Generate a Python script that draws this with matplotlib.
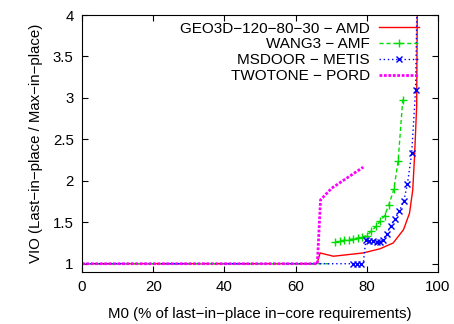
import numpy as np
import matplotlib
matplotlib.use('Agg')
import matplotlib.pyplot as plt

plt.rcParams['font.family'] = ['Liberation Sans', 'DejaVu Sans']

# GEO3D-120-80-30 - AMD
geo_x = [0, 66.0, 66.9, 67.8, 68.7, 69.7, 70.6, 79.0, 83.7, 87.4, 90.3, 92.0, 92.9, 93.4, 94.0, 94.2]
geo_y = [1.0, 1.0, 1.13, 1.12, 1.11, 1.10, 1.09, 1.13, 1.18, 1.25, 1.41, 1.61, 1.89, 2.29, 2.9, 4.2]

# WANG3 - AMF (flat part, then separate block)
wang_x = [0, 70.0, np.nan, 71.1, 72.5, 73.7, 75.0, 76.2, 77.4, 78.6, 80.0, 81.2, 82.6, 83.7, 85.0, 86.2, 87.6, 88.8, 90.1]
wang_y = [1.0, 1.0, np.nan, 1.26, 1.27, 1.285, 1.29, 1.30, 1.31, 1.32, 1.34, 1.39, 1.45, 1.51, 1.58, 1.71, 1.90, 2.24, 2.98]

# MSDOOR - METIS
msd_x = [0, 76.2, 77.3, 78.4, 79.0, 79.7, 80.6, 81.6, 82.8, 83.7, 84.5, 85.6, 86.7, 87.9, 89.1, 90.4, 91.4, 92.6, 93.7, 94.1]
msd_y = [1.0, 1.0, 1.0, 1.0, 1.0, 1.28, 1.277, 1.27, 1.265, 1.265, 1.285, 1.36, 1.46, 1.54, 1.63, 1.76, 1.96, 2.33, 3.10, 4.2]

# TWOTONE - PORD
two_x = [0, 66.1, 67.0, 70.1, 79.0]
two_y = [1.0, 1.0, 1.77, 1.91, 2.165]

fig = plt.figure(figsize=(4.54, 3.24), dpi=100)
ax = fig.add_axes([0.1806, 0.1605, 0.7842, 0.7932])

ax.plot(geo_x, geo_y, color='#ff0000', lw=1.0, label='GEO3D\u2212120\u221280\u221230 \u2212 AMD')
ax.plot(wang_x, wang_y, color='#00dd00', lw=1.0, ls=(0, (3, 2)), marker='+', ms=6, mew=1.0,
        markevery=list(range(3, 19)), label='WANG3 \u2212 AMF')
ax.plot(msd_x, msd_y, color='#0000ff', lw=1.0, ls=(0, (1, 2)), marker='x', ms=4.5, mew=1.0,
        markevery=[1, 2, 3] + list(range(5, 19)), label='MSDOOR \u2212 METIS')
ax.plot(two_x, two_y, color='#ff00ff', lw=2.0, ls=(0, (1, 0.6)), label='TWOTONE \u2212 PORD')

ax.set_xlim(0, 100)
ax.set_ylim(0.9, 4)
ax.set_xticks([0, 20, 40, 60, 80, 100])
ax.set_yticks([1, 1.5, 2, 2.5, 3, 3.5, 4])
ax.set_yticklabels(['1', '1.5', '2', '2.5', '3', '3.5', '4'])
ax.tick_params(direction='in', top=True, right=True, length=4, labelsize=10.8, pad=6)

ax.set_xlabel('M0 (% of last\u2212in\u2212place in\u2212core requirements)', fontsize=10.8, labelpad=9)
ax.set_ylabel('VIO (Last\u2212in\u2212place / Max\u2212in\u2212place)', fontsize=10.8, labelpad=7)

ax.legend(loc='upper right', markerfirst=False, frameon=False, fontsize=11,
          handlelength=2.6, handletextpad=0.6, labelspacing=0.12,
          borderaxespad=0.2, bbox_to_anchor=(0.972, 1.01))
for t in ax.get_legend().get_texts():
    t.set_ha('right')
ax.get_legend()._legend_box.align = 'right'

fig.savefig('out.png', dpi=100)
